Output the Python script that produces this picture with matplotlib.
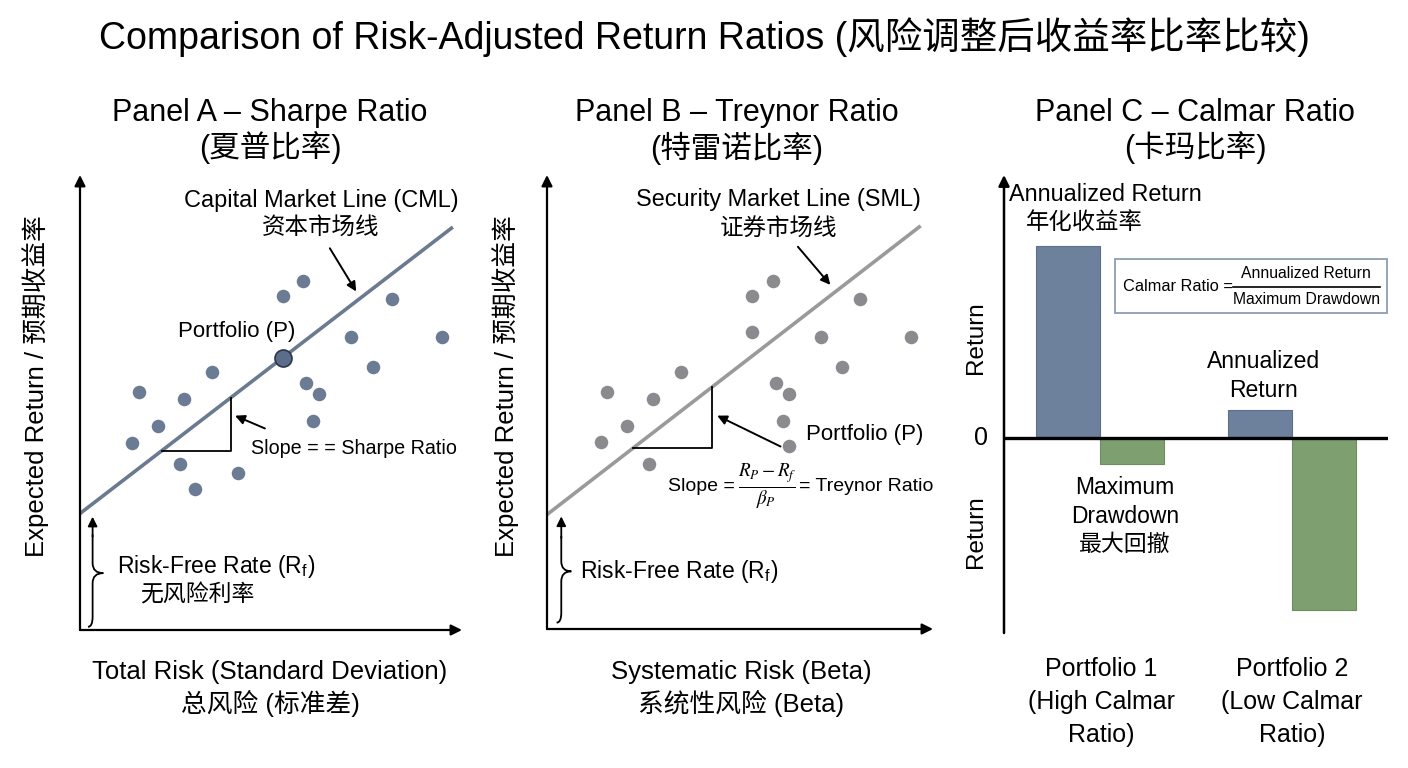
import matplotlib
matplotlib.use("Agg")
import matplotlib.pyplot as plt
from matplotlib.path import Path
from matplotlib.patches import PathPatch, Rectangle

plt.rcParams['font.family'] = ['Liberation Sans', 'Noto Sans CJK SC', 'DejaVu Sans']
plt.rcParams['mathtext.fontset'] = 'stix'

# ---------------- data ----------------
# Panel A (Sharpe): scattered portfolios (total risk, expected return)
sharpe_x = [5.85, 5.32, 8.16, 7.09, 9.48, 7.66, 3.46, 5.92, 6.26, 1.54, 2.72, 6.11, 2.04, 1.36, 2.62, 4.13, 3.02]
sharpe_y = [7.66, 7.34, 7.27, 6.45, 6.45, 5.79, 5.68, 5.42, 5.18, 5.24, 5.08, 4.59, 4.48, 4.12, 3.64, 3.46, 3.10]
portfolio_a = (5.32, 5.98)
risk_free_a = 2.56
cml_slope = 0.645
cml_end = 9.76

# Panel B (Treynor): scattered portfolios (beta, expected return)
treynor_x = [5.85, 5.31, 8.12, 5.30, 7.09, 9.42, 7.65, 3.47, 5.92, 6.26, 1.56, 2.75, 6.11, 2.07, 1.39, 2.63]
treynor_y = [7.67, 7.34, 7.27, 6.55, 6.44, 6.44, 5.78, 5.67, 5.41, 5.17, 5.23, 5.07, 4.59, 4.47, 4.11, 3.63]
portfolio_b = (6.27, 4.02)
risk_free_b = 2.52
sml_slope = 0.657
sml_end = 9.68

# Panel C (Calmar)
calmar_portfolios = ['Portfolio 1\n(High Calmar\nRatio)', 'Portfolio 2\n(Low Calmar\nRatio)']
annualized_return = [10.0, 1.45]
max_drawdown = [-1.4, -9.0]

# ---------------- figure ----------------
W, H = 1408, 768
fig = plt.figure(figsize=(W / 100, H / 100), dpi=100)
fig.patch.set_facecolor('white')


def fx(px):
    return px / W


def fy(py):
    return 1 - py / H


def make_axes(x0, y0, x1, y1):
    ax = fig.add_axes([fx(x0), fy(y1), fx(x1) - fx(x0), fy(y0) - fy(y1)])
    ax.set_axis_off()
    return ax


def arrow(ax, xy_from, xy_to, lw=1.6, ms=16):
    ax.annotate('', xy=xy_to, xytext=xy_from,
                arrowprops=dict(arrowstyle='-|>', color='black', lw=lw,
                                mutation_scale=ms, shrinkA=0, shrinkB=0),
                annotation_clip=False)


def brace(ax, x0, yb, ym, yt, tipx):
    verts = [(x0 - 0.12, yb), (x0, yb), (x0, yb + 0.22),
             (x0, ym - 0.22),
             (x0, ym), (tipx, ym),
             (x0, ym), (x0, ym + 0.22),
             (x0, yt)]
    codes = [Path.MOVETO, Path.CURVE3, Path.CURVE3,
             Path.LINETO,
             Path.CURVE3, Path.CURVE3,
             Path.CURVE3, Path.CURVE3,
             Path.LINETO]
    ax.add_patch(PathPatch(Path(verts, codes), fill=False, lw=1.3, ec='black', clip_on=False))


FS_ANN = 16.5
FS_LAB = 18.5
FS_PANEL = 22

fig.text(0.5, fy(37), 'Comparison of Risk-Adjusted Return Ratios (风险调整后收益率比率比较)',
         ha='center', va='center', fontsize=27)

# ---------------- Panel A ----------------
axA = make_axes(80, 175, 462, 630)
axA.set_xlim(0, 10)
axA.set_ylim(0, 10)
arrow(axA, (0, 0), (0, 10))
arrow(axA, (0, 0), (10, 0))
axA.plot([0, cml_end], [risk_free_a, risk_free_a + cml_slope * cml_end], color='#6a7a8f', lw=2.6,
         solid_capstyle='butt', zorder=2)
axA.scatter(sharpe_x, sharpe_y, s=95, color='#6b7b93', zorder=3, linewidths=0)
axA.scatter([portfolio_a[0]], [portfolio_a[1]], s=150, color='#5b6d8a', edgecolor='#2c3648',
            linewidths=1.2, zorder=4)
# slope triangle
tx0, tx1 = 2.14, 3.95
axA.plot([tx0, tx1, tx1], [risk_free_a + cml_slope * tx0, risk_free_a + cml_slope * tx0,
                           risk_free_a + cml_slope * tx1], color='black', lw=1.3, zorder=2)
arrow(axA, (4.84, 4.43), (4.06, 4.71), lw=1.4, ms=14)
axA.text(4.48, 4.0, 'Slope = = Sharpe Ratio', ha='left', va='center', fontsize=14.2)
arrow(axA, (6.54, 8.39), (7.23, 7.44), lw=1.4, ms=14)
axA.text(6.31, 9.45, 'Capital Market Line (CML)', ha='center', va='center', fontsize=16.9)
axA.text(6.31, 8.84, '资本市场线', ha='center', va='center', fontsize=16.9)
axA.text(4.11, 6.55, 'Portfolio (P)', ha='center', va='center', fontsize=16)
brace(axA, 0.33, 0.07, 1.25, 2.1, 0.61)
arrow(axA, (0.33, 2.05), (0.33, 2.49), lw=1.3, ms=14)
axA.text(0.96, 1.39, 'Risk-Free Rate (R$_\\mathregular{f}$)', ha='left', va='center', fontsize=FS_ANN)
axA.text(3.06, 0.77, '无风险利率', ha='center', va='center', fontsize=FS_ANN)

fig.text(fx(270), fy(113), 'Panel A – Sharpe Ratio', ha='center', va='center', fontsize=FS_PANEL)
fig.text(fx(270), fy(148), '(夏普比率)', ha='center', va='center', fontsize=FS_PANEL)
fig.text(fx(36), fy(386), 'Expected Return / 预期收益率', ha='center', va='center',
         rotation=90, fontsize=FS_LAB)
fig.text(fx(270), fy(672), 'Total Risk (Standard Deviation)', ha='center', va='center', fontsize=FS_LAB)
fig.text(fx(270), fy(703), '总风险 (标准差)', ha='center', va='center', fontsize=FS_LAB)

# ---------------- Panel B ----------------
axB = make_axes(547, 175, 933, 629)
axB.set_xlim(0, 10)
axB.set_ylim(0, 10)
arrow(axB, (0, 0), (0, 10))
arrow(axB, (0, 0), (10, 0))
axB.plot([0, sml_end], [risk_free_b, risk_free_b + sml_slope * sml_end], color='#9a9a9c', lw=2.6,
         solid_capstyle='butt', zorder=2)
axB.scatter(treynor_x, treynor_y, s=95, color='#8b8b8f', zorder=3, linewidths=0)
axB.scatter([portfolio_b[0]], [portfolio_b[1]], s=95, color='#8b8b8f', zorder=3, linewidths=0)
tbx0, tbx1 = 2.23, 4.28
axB.plot([tbx0, tbx1, tbx1], [risk_free_b + sml_slope * tbx0, risk_free_b + sml_slope * tbx0,
                              risk_free_b + sml_slope * tbx1], color='black', lw=1.3, zorder=2)
arrow(axB, (6.05, 4.02), (4.41, 4.70), lw=1.4, ms=14)
axB.text(6.72, 4.28, 'Portfolio (P)', ha='left', va='center', fontsize=16)
arrow(axB, (6.50, 8.42), (7.34, 7.58), lw=1.4, ms=14)
axB.text(6.0, 9.45, 'Security Market Line (SML)', ha='center', va='center', fontsize=16.9)
axB.text(6.0, 8.83, '证券市场线', ha='center', va='center', fontsize=16.9)
axB.text(4.88, 3.13, 'Slope =', ha='right', va='center', fontsize=14)
axB.text(5.70, 3.13, '$\\frac{R_P - R_f}{\\beta_P}$', ha='center', va='center', fontsize=19.5)
axB.text(6.52, 3.13, '= Treynor Ratio', ha='left', va='center', fontsize=14)
brace(axB, 0.37, 0.14, 1.27, 2.05, 0.63)
arrow(axB, (0.37, 2.0), (0.37, 2.48), lw=1.3, ms=14)
axB.text(0.85, 1.27, 'Risk-Free Rate (R$_\\mathregular{f}$)', ha='left', va='center', fontsize=FS_ANN)

fig.text(fx(737), fy(113), 'Panel B – Treynor Ratio', ha='center', va='center', fontsize=FS_PANEL)
fig.text(fx(737), fy(148), '(特雷诺比率)', ha='center', va='center', fontsize=FS_PANEL)
fig.text(fx(506), fy(386), 'Expected Return / 预期收益率', ha='center', va='center',
         rotation=90, fontsize=FS_LAB)
fig.text(fx(741), fy(672), 'Systematic Risk (Beta)', ha='center', va='center', fontsize=FS_LAB)
fig.text(fx(741), fy(703), '系统性风险 (Beta)', ha='center', va='center', fontsize=FS_LAB)

# ---------------- Panel C ----------------
axC = make_axes(1004, 175, 1388, 633)
axC.set_xlim(0, 6)
axC.set_ylim(-10.2, 13.7)
centers = [1.5, 4.5]
bw = 1.0
axC.bar([c - 0.5 for c in centers], annualized_return, width=bw, color='#6d809c',
        edgecolor='#5d6f8a', lw=0.8, zorder=2)
axC.bar([c + 0.5 for c in centers], max_drawdown, width=bw, color='#7e9f70',
        edgecolor='#6d8d60', lw=0.8, zorder=2)
axC.plot([0, 6], [0, 0], color='black', lw=2.4, zorder=3)
arrow(axC, (0, -10.2), (0, 13.7), lw=1.8)
axC.text(1.59, 12.66, 'Annualized Return', ha='center', va='center', fontsize=16.8)
axC.text(1.26, 11.2, '年化收益率', ha='center', va='center', fontsize=16.8)
axC.text(4.05, 3.22, 'Annualized\nReturn', ha='center', va='center', fontsize=FS_ANN, linespacing=1.35)
axC.text(1.89, -4.1, 'Maximum\nDrawdown\n最大回撤', ha='center', va='center', fontsize=FS_ANN,
         linespacing=1.3)
# formula box
axC.add_patch(Rectangle((1.74, 6.52), 5.99 - 1.74, 9.31 - 6.52, fill=False, ec='#8d9db2', lw=1.3,
                        zorder=3))
axC.text(1.86, 7.88, 'Calmar Ratio =', ha='left', va='center', fontsize=11.8)
axC.text(4.72, 8.56, 'Annualized Return', ha='center', va='center', fontsize=11.3)
axC.plot([3.58, 5.87], [7.85, 7.85], color='black', lw=1.2, zorder=3)
axC.text(4.72, 7.2, 'Maximum Drawdown', ha='center', va='center', fontsize=11.3)

fig.text(fx(1195), fy(113), 'Panel C – Calmar Ratio', ha='center', va='center', fontsize=FS_PANEL)
fig.text(fx(1195), fy(148), '(卡玛比率)', ha='center', va='center', fontsize=FS_PANEL)
fig.text(fx(976), fy(338), 'Return', ha='center', va='center', rotation=90, fontsize=17.5)
fig.text(fx(976), fy(532), 'Return', ha='center', va='center', rotation=90, fontsize=17.5)
fig.text(fx(981), fy(438), '0', ha='center', va='center', fontsize=18)
for pxc, lab in zip([1101, 1292], calmar_portfolios):
    fig.text(fx(pxc), fy(702), lab, ha='center', va='center', fontsize=18, linespacing=1.45)

fig.savefig('out.png', dpi=100, facecolor='white')
